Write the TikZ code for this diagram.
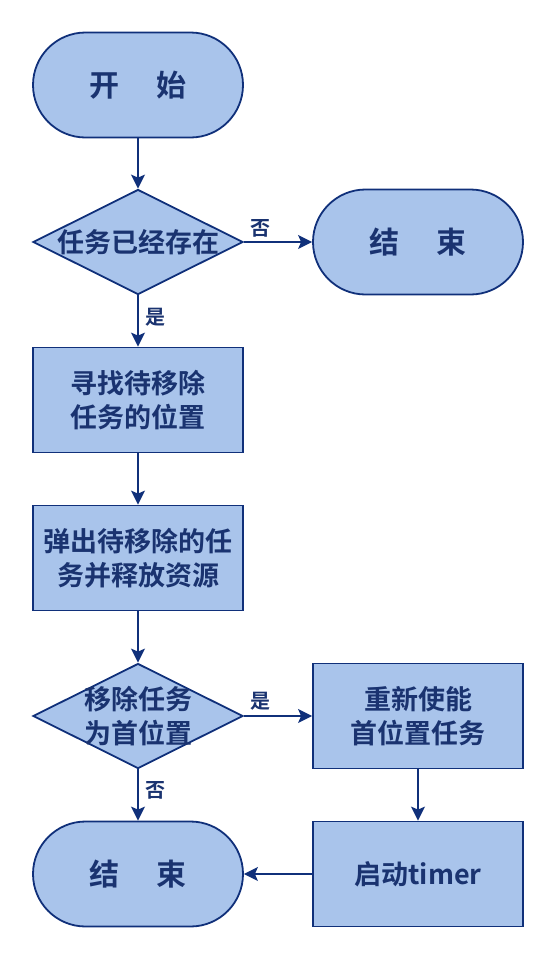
\documentclass[tikz,border=0pt]{standalone}
\usepackage{fontspec}
\newfontfamily\cjk{Noto Sans CJK SC}[BoldFont={Noto Sans CJK SC Bold}]
\usetikzlibrary{shapes.geometric,arrows.meta}
\definecolor{fillb}{HTML}{A9C4EB}
\definecolor{lineb}{HTML}{10307A}
\definecolor{textb}{HTML}{1A3370}
\tikzset{
  base/.style={draw=lineb, fill=fillb, line width=1.8pt, text=textb, font=\cjk\bfseries\fontsize{27}{34}\selectfont, align=center, inner sep=0pt},
  procbox/.style={base, rectangle, minimum width=210pt, minimum height=105pt},
  decide/.style={base, diamond, minimum width=210pt, minimum height=105pt, aspect=2},
  dtext/.style={text=textb, font=\cjk\bfseries\fontsize{27}{34}\selectfont, align=center, inner sep=0pt},
  termshape/.style={base, rectangle, rounded corners=52.5pt, minimum width=210pt, minimum height=105pt, font=\cjk\bfseries\fontsize{30}{34}\selectfont},
  conn/.style={draw=lineb, line width=1.6pt, -{Stealth[length=14pt,width=14pt,inset=3pt]}},
  lab/.style={text=textb, font=\cjk\bfseries\fontsize{20}{22}\selectfont, inner sep=0pt}
}
\begin{document}
\begin{tikzpicture}[x=1pt,y=-1pt]
\useasboundingbox (0,0) rectangle (558,970);
\node[termshape] (start) at (138,85) {开\hspace{38pt}始};
\node[decide] (d1) at (138,242) {};
\node[dtext] (d1t) at (d1.center) {任务已经存在};
\node[termshape] (end1) at (418,242) {结\hspace{38pt}束};
\node[procbox] (p1) at (138,400) {寻找待移除\\任务的位置};
\node[procbox] (p2) at (138,558) {弹出待移除的任\\务并释放资源};
\node[decide] (d2) at (138,716) {};
\node[dtext] (d2t) at (d2.center) {移除任务\\为首位置};
\node[procbox] (p3) at (418,716) {重新使能\\首位置任务};
\node[termshape] (end2) at (138,874) {结\hspace{38pt}束};
\node[procbox] (p4) at (418,874) {启动timer};
\draw[conn] (start) -- (d1);
\draw[conn] (d1) -- (end1);
\draw[conn] (d1) -- (p1);
\draw[conn] (p1) -- (p2);
\draw[conn] (p2) -- (d2);
\draw[conn] (d2) -- (p3);
\draw[conn] (d2) -- (end2);
\draw[conn] (p3) -- (p4);
\draw[conn] (p4) -- (end2);
\node[lab] (no1) at (260,228) {否};
\node[lab] (yes1) at (155,317) {是};
\node[lab] (yes2) at (260,701) {是};
\node[lab] (no2) at (155,790) {否};
\end{tikzpicture}
\end{document}
